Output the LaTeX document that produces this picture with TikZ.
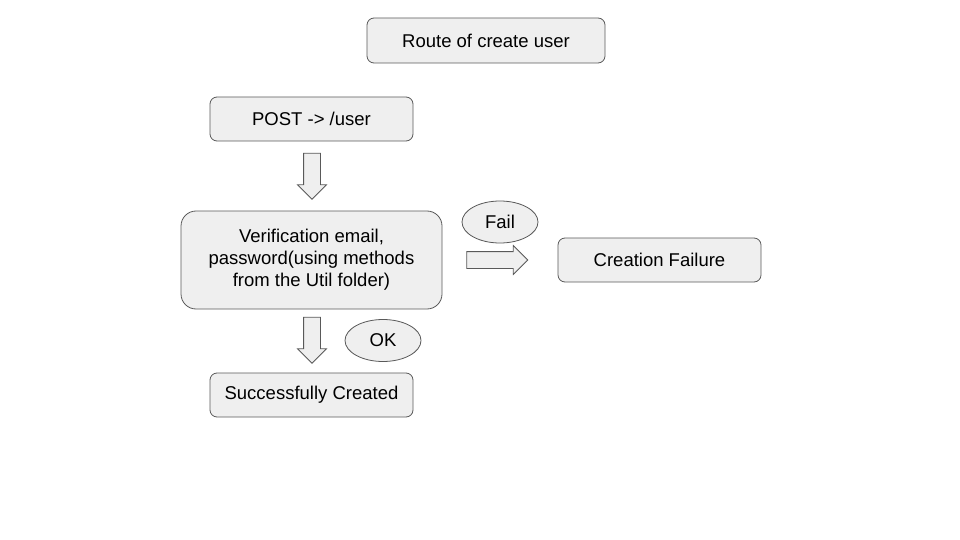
\documentclass[tikz,border=0pt]{standalone}
\usepackage{fontspec}
\setmainfont{Liberation Sans}
\usepackage{tikz}
\usetikzlibrary{shapes.geometric, shapes.arrows, positioning}
\definecolor{boxfill}{HTML}{EFEFEF}
\definecolor{boxline}{HTML}{595959}

\begin{document}
\begin{tikzpicture}[x=1pt, y=-1pt,
    box/.style={rectangle, rounded corners=7pt, draw=boxline, fill=boxfill, line width=0.8pt, minimum width=203pt, minimum height=44pt, align=center, font=\fontsize{18.5}{22}\selectfont},
    tag/.style={ellipse, draw=boxline, fill=boxfill, line width=0.8pt, minimum width=76pt, minimum height=42pt, inner sep=0pt, font=\fontsize{18.5}{22}\selectfont},
    blockarrow/.style={single arrow, draw=boxline, fill=boxfill, line width=0.8pt, inner xsep=0pt, inner ysep=8pt, single arrow head extend=6pt, minimum height=46pt}
]

\useasboundingbox (0,0) rectangle (960,540);

\node[box, minimum width=238pt, minimum height=45pt] (route) at (486,40.5) {Route of create user};
\node[box] (post) at (311.5,119) {POST -> /user};
\node[box, rounded corners=15pt, minimum width=261pt, minimum height=98pt] (verify) at (311.5,260) {Verification email,\\password(using methods\\from the Util folder)};
\node[box] (failure) at (659.5,260) {Creation Failure};
\node[box] (success) at (311.5,395) {Successfully Created};

\node[tag] (fail) at (500,222) {Fail};
\node[tag] (ok) at (383,340.5) {OK};

\node[blockarrow, rotate=-90] (toverify) at (312,172) {};
\node[blockarrow, rotate=-90] (tosuccess) at (312,336) {};
\node[blockarrow, minimum height=61pt] (tofailure) at (493,260) {};

\end{tikzpicture}
\end{document}
